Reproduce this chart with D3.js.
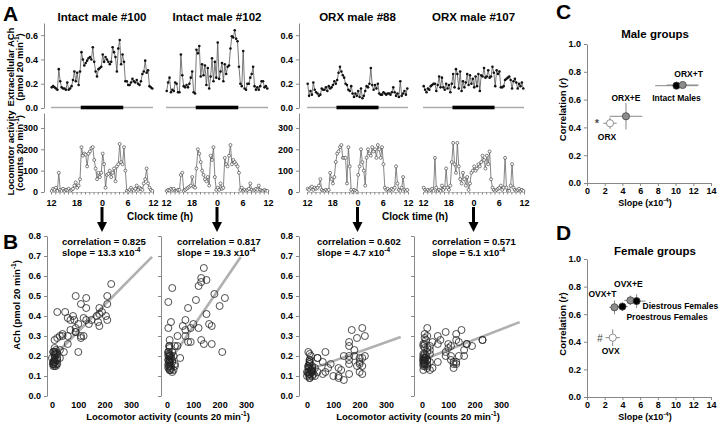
<!DOCTYPE html>
<html>
<head>
<meta charset="utf-8">
<title>ACh and locomotor activity</title>
<script src="https://cdn.jsdelivr.net/npm/d3@7"></script>
<style>
  body { margin: 0; background: #fff; }
  svg { font-family: "Liberation Sans", Arial, sans-serif; font-weight: bold; }
</style>
</head>
<body>
<svg id="fig" width="720" height="424"></svg>
<script>
// ---- data (20-min samples starting at 12:00) ----
const titles = ["Intact male #100", "Intact male #102", "ORX male #88", "ORX male #107"];

const ach100 = [.17,.18,.17,.16,.15,.32,.22,.17,.16,.16, .15,.21,.15,.16,.18,.23,.30,.22,.29,.19,
  .30,.46,.40,.35,.37,.39,.41,.42,.40,.50, .38,.30,.26,.32,.33,.34,.44,.38,.42,.40,
  .38,.36,.38,.50,.46,.42,.30,.49,.56,.36, .44,.38,.22,.22,.19,.19,.21,.24,.22,.21,
  .23,.20,.19,.22,.28,.30,.39,.29,.31,.18, .17,.16];
const ach102 = [.14,.21,.25,.13,.15,.14,.21,.20,.13,.13, .44,.27,.18,.17,.19,.17,.20,.25,.30,.13,
  .12,.48,.45,.51,.26,.36,.27,.35,.19,.33, .16,.26,.41,.22,.38,.25,.54,.24,.30,.37,
  .22,.36,.28,.34,.35,.49,.59,.58,.64,.57, .55,.34,.20,.18,.47,.16,.15,.20,.20,.25,
  .28,.34,.18,.15,.17,.15,.18,.22,.22,.17, .18,.16];
const ach88 = [.20,.10,.14,.11,.21,.15,.13,.12,.10,.11, .16,.15,.15,.17,.14,.18,.16,.17,.19,.22,
  .20,.23,.29,.34,.30,.27,.25,.20,.19,.15, .14,.18,.12,.09,.12,.10,.14,.09,.16,.08,
  .10,.14,.18,.17,.20,.33,.19,.15,.19,.16, .20,.12,.11,.11,.13,.12,.11,.12,.12,.11,
  .13,.17,.13,.10,.12,.09,.22,.10,.12,.14, .11,.16];
const ach107 = [.18,.15,.13,.16,.15,.18,.19,.20,.20,.14, .19,.26,.17,.25,.17,.15,.20,.16,.19,.13,
  .20,.28,.17,.32,.28,.16,.30,.14,.22,.17, .21,.28,.19,.27,.20,.24,.17,.26,.18,.28,
  .14,.27,.26,.33,.25,.26,.31,.25,.26,.34, .29,.18,.31,.28,.30,.17,.17,.18,.23,.24,
  .25,.26,.23,.16,.22,.24,.21,.16,.20,.18, .21,.16];

const loco100 = [5,15,10,20,5,90,10,5,15,5, 10,10,15,5,10,15,30,45,20,30,
  60,210,170,180,175,120,180,190,205,210, 150,110,60,90,70,90,180,130,20,80,
  85,100,70,90,110,50,120,130,225,140, 130,210,100,5,0,10,20,10,5,15,
  30,10,20,15,10,40,60,110,40,20, 10,5];
const loco102 = [5,10,8,15,10,15,5,5,10,10, 80,90,5,10,15,20,25,30,70,25,
  20,110,200,180,140,100,80,60,50,70, 30,170,150,210,70,10,20,10,40,15,
  20,160,130,120,170,220,130,150,140,130, 120,90,10,20,5,10,5,10,15,40,
  10,5,10,15,10,30,10,5,5,10, 5,5];
const loco88 = [15,10,20,25,10,20,15,20,30,60, 10,5,5,10,5,10,90,60,40,70,
  140,180,190,210,220,160,160,160,40,210, 120,10,0,10,5,0,80,120,200,140,
  100,30,160,200,180,170,210,190,200,160, 220,200,160,210,130,20,10,15,5,10,
  15,10,20,120,40,10,5,20,70,10, 5,10];
const loco107 = [20,10,5,10,5,10,15,5,160,20, 5,10,5,30,10,20,110,20,10,30,
  140,230,130,90,230,120,60,40,90,60, 30,70,10,40,90,100,120,100,110,130,
  120,140,170,150,110,170,130,190,60,20, 10,5,10,15,20,30,10,20,160,20,
  5,5,30,130,20,10,5,10,15,5, 10,5];

const achTicks = [0, 0.2, 0.4, 0.6];
const locoTicks = [0, 100, 200, 300];
const clockHours = d3.range(0, 25);          // hours after 12:00
const lightsOff = 19, lightsOn = 5;           // dark bar

const corrLabels = ["0.825", "0.817", "0.602", "0.571"];
const slopeLabels = ["13.3", "19.3", "4.7", "5.1"];
const regSlope = [13.3e-4, 19.3e-4, 4.7e-4, 5.1e-4];
const regIntercept = [0.19, 0.155, 0.128, 0.18];
const regEnd = [380, 280, 356, 371];
const scatterYTicks = [0, .1, .2, .3, .4, .5, .6, .7, .8];
const scatterXTicks = [0, 100, 200, 300];

const maleGroups = ["ORX", "ORX+E", "Intact Males", "ORX+T"];
const maleSlope = [2.6, 4.4, 10.1, 10.8];
const maleSlopeErr = [0.75, 1.85, 2.4, 1.8];
const maleCorr = [0.43, 0.48, 0.70, 0.705];
const maleCorrErr = [0.04, 0.095, 0.02, 0.02];

const femaleGroups = ["OVX", "OVX+T", "Proestrous Females", "OVX+E", "Diestrous Females"];
const femaleSlope = [2.9, 3.1, 4.0, 4.9, 5.6];
const femaleSlopeErr = [0.8, 0.6, 0.6, 0.7, 1.0];
const femaleCorr = [0.43, 0.65, 0.655, 0.70, 0.695];
const femaleCorrErr = [0.06, 0.05, 0.03, 0.035, 0.05];

const slopeTicks = [0, 2, 4, 6, 8, 10, 12, 14];
const corrTicks = [0, 0.2, 0.4, 0.6, 0.8, 1.0];

// ---- drawing ----
const svg = d3.select("#fig");
const achData = [ach100, ach102, ach88, ach107];
const locoData = [loco100, loco102, loco88, loco107];

// text with superscripts: parts = [[string, isSup], ...]
function richText(g, x, y, parts, fs, anchor, rotate) {
  const t = g.append("text").attr("x", x).attr("y", y)
    .attr("font-size", fs).attr("text-anchor", anchor || "start");
  if (rotate) t.attr("transform", `rotate(-90,${x},${y})`);
  let shift = 0;
  parts.forEach(([s, sup]) => {
    const target = sup ? -fs * 0.4 : 0;
    t.append("tspan").attr("dy", target - shift)
      .attr("font-size", sup ? fs * 0.68 : fs).text(s);
    shift = target;
  });
  return t;
}

function styleAxis(g, fs) {
  g.attr("font-family", null).attr("font-size", fs || 9).attr("font-weight", "bold");
  g.select(".domain").attr("stroke", "#888");
  g.selectAll(".tick line").attr("stroke", "#888");
  g.selectAll(".tick text").attr("fill", "#000");
}

// panel letters
[["A", 3, 21], ["B", 3, 249], ["C", 556, 19], ["D", 556, 240]].forEach(([l, x, y]) =>
  svg.append("text").attr("x", x).attr("y", y).attr("font-size", 21).text(l));

// ---- A: time courses ----
const tsRange = [[51, 153], [166, 268], [307, 408], [423, 524]];
const tsAxisX = [44, null, 299, null];
const yAch = d3.scaleLinear([0, 0.7], [108, 23]);
const yLoco = d3.scaleLinear([0, 370], [192, 113]);
const tOf = i => i / 3 + 1 / 6;
const toNoon = h => (h - 12 + 24) % 24;

achData.forEach((ach, p) => {
  const x = d3.scaleLinear([0, 24], tsRange[p]);
  const g = svg.append("g");

  g.append("text").attr("x", x(12)).attr("y", 21).attr("text-anchor", "middle")
    .attr("font-size", 11.5).text(titles[p]);

  // baseline and dark period bar
  g.append("line").attr("x1", x(0)).attr("x2", x(24)).attr("y1", yAch(0) - 0.5).attr("y2", yAch(0) - 0.5)
    .attr("stroke", "#aaa").attr("stroke-width", 1.5);
  g.append("rect").attr("x", x(toNoon(lightsOff))).attr("width", x(toNoon(lightsOn)) - x(toNoon(lightsOff)))
    .attr("y", yAch(0) - 2.3).attr("height", 3.6).attr("fill", "#000");

  g.append("path").datum(ach)
    .attr("d", d3.line().x((d, i) => x(tOf(i))).y(d => yAch(d)))
    .attr("fill", "none").attr("stroke", "#555").attr("stroke-width", 0.8);
  g.selectAll("circle.a").data(ach).join("circle").attr("class", "a")
    .attr("cx", (d, i) => x(tOf(i))).attr("cy", d => yAch(d)).attr("r", 1.3).attr("fill", "#111");

  const loco = locoData[p];
  g.append("path").datum(loco)
    .attr("d", d3.line().x((d, i) => x(tOf(i))).y(d => yLoco(d)))
    .attr("fill", "none").attr("stroke", "#666").attr("stroke-width", 0.8);
  g.selectAll("circle.l").data(loco).join("circle").attr("class", "l")
    .attr("cx", (d, i) => x(tOf(i))).attr("cy", d => yLoco(d)).attr("r", 1.5)
    .attr("fill", "#fff").attr("stroke", "#333").attr("stroke-width", 0.6);

  const xa = g.append("g").attr("transform", `translate(0,${yLoco(0)})`)
    .call(d3.axisBottom(x).tickValues(clockHours).tickSize(2.5).tickSizeOuter(0)
      .tickFormat(h => h % 6 === 0 ? (12 + h) % 24 : ""));
  styleAxis(xa, 9);
  xa.select(".domain").attr("stroke", "#bbb");
  xa.selectAll(".tick text").attr("dy", "0.95em");

  if (tsAxisX[p] !== null) {
    const ya = g.append("g").attr("transform", `translate(${tsAxisX[p]},0)`)
      .call(d3.axisLeft(yAch).tickValues(achTicks).tickFormat(d3.format(".1f")).tickSize(3).tickSizeOuter(0));
    styleAxis(ya, 9);
    const yl = g.append("g").attr("transform", `translate(${tsAxisX[p]},0)`)
      .call(d3.axisLeft(yLoco).tickValues(locoTicks).tickSize(3).tickSizeOuter(0));
    styleAxis(yl, 9);
  }

  // arrow pointing to the scatter below
  const ax = x(12);
  g.append("line").attr("x1", ax).attr("x2", ax).attr("y1", 207).attr("y2", 224)
    .attr("stroke", "#000").attr("stroke-width", 3);
  g.append("path").attr("d", `M${ax - 5},222L${ax + 5},222L${ax},232Z`).attr("fill", "#000");
});

// axis titles for A
richText(svg, 13.5, 67, [["Extracellular ACh", false]], 9.5, "middle", true);
richText(svg, 23, 67, [["(pmol 20 min", false], ["-1", true], [")", false]], 9.5, "middle", true);
richText(svg, 13.5, 153, [["Locomotor activity", false]], 9.5, "middle", true);
richText(svg, 23, 153, [["(counts 20 min", false], ["-1", true], [")", false]], 9.5, "middle", true);
svg.append("text").attr("x", 160).attr("y", 220).attr("text-anchor", "middle").attr("font-size", 10).text("Clock time (h)");
svg.append("text").attr("x", 415).attr("y", 220).attr("text-anchor", "middle").attr("font-size", 10).text("Clock time (h)");

// ---- B: scatter ACh vs locomotor ----
const scRange = [[52, 152], [167, 267], [307, 407], [422, 522]];
const scAxisX = [47, 161, 299, 414];
const yS = d3.scaleLinear([0, 0.8], [396, 236]);

achData.forEach((ach, p) => {
  const x = d3.scaleLinear([0, 380], scRange[p]);
  const g = svg.append("g");
  const ya = g.append("g").attr("transform", `translate(${scAxisX[p]},0)`)
    .call(d3.axisLeft(yS).tickValues(scatterYTicks).tickSize(3).tickSizeOuter(0)
      .tickFormat(p % 2 === 0 ? d3.format(".1f") : () => ""));
  styleAxis(ya, 9);

  const xa = g.append("g").attr("transform", `translate(0,${yS(0) + 3})`)
    .call(d3.axisBottom(x).tickValues(scatterXTicks).tickSize(0));
  styleAxis(xa, 9);
  xa.select(".domain").remove();

  g.append("line").attr("x1", x(0)).attr("x2", x(regEnd[p]))
    .attr("y1", yS(regIntercept[p])).attr("y2", yS(regIntercept[p] + regSlope[p] * regEnd[p]))
    .attr("stroke", "#b0b0b0").attr("stroke-width", 2.6);

  const pts = ach.map((a, i) => [locoData[p][i], a]);
  g.selectAll("circle").data(pts).join("circle")
    .attr("cx", d => x(d[0])).attr("cy", d => yS(d[1])).attr("r", 3.5)
    .attr("fill", "none").attr("stroke", "#222").attr("stroke-width", 0.8);

  const tx = scRange[p][0] + 10;
  g.append("text").attr("x", tx).attr("y", 245).attr("font-size", 9.5).text("correlation = " + corrLabels[p]);
  richText(g, tx, 256, [["slope = " + slopeLabels[p] + " x10", false], ["-4", true]], 9.5, "start");
});

richText(svg, 20, 305, [["ACh (pmol 20 min", false], ["-1", true], [")", false]], 9.5, "middle", true);
richText(svg, 168, 420, [["Locomotor activity (counts 20 min", false], ["-1", true], [")", false]], 9.5, "middle");
richText(svg, 418, 420, [["Locomotor activity (counts 20 min", false], ["-1", true], [")", false]], 9.5, "middle");

// ---- C / D: group means ----
function groupPanel(opt) {
  const x = d3.scaleLinear([0, 14], [587, 711]);
  const y = d3.scaleLinear([0, 1], opt.yRange);
  const g = svg.append("g");
  g.append("text").attr("x", 655).attr("y", opt.titleY).attr("text-anchor", "middle")
    .attr("font-size", 11.5).text(opt.title);

  const ya = g.append("g").attr("transform", "translate(587,0)")
    .call(d3.axisLeft(y).tickValues(corrTicks).tickFormat(d3.format(".1f")).tickSize(3).tickSizeOuter(0));
  styleAxis(ya, 9);
  const xa = g.append("g").attr("transform", `translate(0,${opt.yRange[0]})`)
    .call(d3.axisBottom(x).tickValues(slopeTicks).tickSize(3).tickPadding(2).tickSizeOuter(0));
  styleAxis(xa, 9);

  const cy = (opt.yRange[0] + opt.yRange[1]) / 2 - 4;
  const t = g.append("text").attr("x", 565.5).attr("y", cy).attr("text-anchor", "middle")
    .attr("font-size", 9.5).attr("transform", `rotate(-90,565.5,${cy})`);
  t.append("tspan").text("Correlation (");
  t.append("tspan").attr("font-style", "italic").text("r");
  t.append("tspan").text(")");
  richText(g, 645, opt.yRange[0] + 22.5, [["Slope (x10", false], ["-4", true], [")", false]], 9, "middle");

  opt.names.forEach((name, i) => {
    const px = x(opt.slope[i]), py = y(opt.corr[i]);
    g.append("line").attr("x1", x(opt.slope[i] - opt.slopeErr[i])).attr("x2", x(opt.slope[i] + opt.slopeErr[i]))
      .attr("y1", py).attr("y2", py).attr("stroke", "#888").attr("stroke-width", 1);
    g.append("line").attr("x1", px).attr("x2", px)
      .attr("y1", y(opt.corr[i] - opt.corrErr[i])).attr("y2", y(opt.corr[i] + opt.corrErr[i]))
      .attr("stroke", "#888").attr("stroke-width", 1);
  });
  opt.names.forEach((name, i) => {
    const px = x(opt.slope[i]), py = y(opt.corr[i]);
    g.append("circle").attr("cx", px).attr("cy", py).attr("r", 3.6)
      .attr("fill", opt.fill[i]).attr("stroke", opt.fill[i] === "#fff" ? "#777" : "#444").attr("stroke-width", 0.8);
    const [dx, dy, anchor] = opt.labelPos[i];
    g.append("text").attr("x", px + dx).attr("y", py + dy).attr("text-anchor", anchor)
      .attr("font-size", 8.5).text(name);
  });
  const [mi, mark] = opt.mark;
  g.append("text").attr("x", x(opt.slope[mi]) - 13).attr("y", y(opt.corr[mi]) + 4)
    .attr("text-anchor", "middle").attr("font-size", 10).attr("fill", "#444")
    .attr("font-weight", mark === "#" ? "normal" : "bold").attr("font-style", mark === "#" ? "italic" : "normal")
    .text(mark);
}

groupPanel({
  title: "Male groups", titleY: 38, yRange: [183, 44],
  names: maleGroups, slope: maleSlope, slopeErr: maleSlopeErr, corr: maleCorr, corrErr: maleCorrErr,
  fill: ["#fff", "#8c8c8c", "#000", "#8c8c8c"],
  labelPos: [[-3, 17, "middle"], [0, -15, "middle"], [0, 15, "middle"], [6, -8, "middle"]],
  mark: [0, "*"]
});
groupPanel({
  title: "Female groups", titleY: 255, yRange: [397, 259],
  names: femaleGroups, slope: femaleSlope, slopeErr: femaleSlopeErr, corr: femaleCorr, corrErr: femaleCorrErr,
  fill: ["#fff", "#8c8c8c", "#000", "#8c8c8c", "#000"],
  labelPos: [[-2, 16, "middle"], [-12, -10, "middle"], [4, 13, "start"], [-2, -13, "middle"], [6, 8, "start"]],
  mark: [0, "#"]
});
</script>
</body>
</html>
